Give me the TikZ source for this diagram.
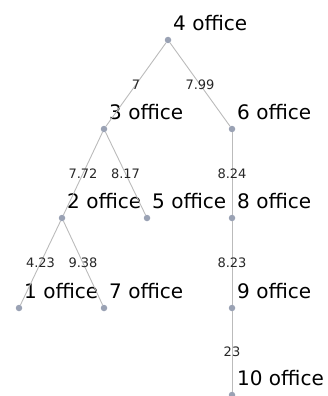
\documentclass[tikz,border=0pt]{standalone}
\usepackage{fontspec}
\setmainfont{DejaVu Sans}
\definecolor{dotc}{HTML}{9AA2B4}
\definecolor{edgec}{HTML}{BBBBBB}
\begin{document}
\begin{tikzpicture}[x=1pt,y=-1pt,
  dot/.style={circle,fill=dotc,inner sep=0pt,minimum size=6.5pt},
  lbl/.style={anchor=base west,font=\fontsize{20}{24}\selectfont,inner sep=0pt},
  el/.style={font=\fontsize{13}{15}\selectfont,inner sep=0pt,text=black!85},
  link/.style={draw=edgec,line width=0.9pt}]
\useasboundingbox (0,0) rectangle (327,396);
\node[dot] (n4) at (168,40) {};
\node[dot] (n3) at (104,129) {};
\node[dot] (n6) at (232,129) {};
\node[dot] (n2) at (62,218) {};
\node[dot] (n5) at (147,218) {};
\node[dot] (n8) at (232,218) {};
\node[dot] (n1) at (19,308) {};
\node[dot] (n7) at (104,308) {};
\node[dot] (n9) at (232,308) {};
\node[dot] (n10) at (232,395) {};
\node[lbl] (l4) at (173,30.5) {4 office};
\node[lbl] (l3) at (109,119.5) {3 office};
\node[lbl] (l6) at (237,119.5) {6 office};
\node[lbl] (l2) at (67,208.5) {2 office};
\node[lbl] (l5) at (152,208.5) {5 office};
\node[lbl] (l8) at (237,208.5) {8 office};
\node[lbl] (l1) at (24,298.5) {1 office};
\node[lbl] (l7) at (109,298.5) {7 office};
\node[lbl] (l9) at (237,298.5) {9 office};
\node[lbl] (l10) at (237,385.5) {10 office};
\draw[link] (n4) -- node[el] {7} (n3);
\draw[link] (n4) -- node[el] {7.99} (n6);
\draw[link] (n3) -- node[el] {7.72} (n2);
\draw[link] (n3) -- node[el] {8.17} (n5);
\draw[link] (n6) -- node[el] {8.24} (n8);
\draw[link] (n2) -- node[el] {4.23} (n1);
\draw[link] (n2) -- node[el] {9.38} (n7);
\draw[link] (n8) -- node[el] {8.23} (n9);
\draw[link] (n9) -- node[el] {23} (n10);
\end{tikzpicture}
\end{document}
